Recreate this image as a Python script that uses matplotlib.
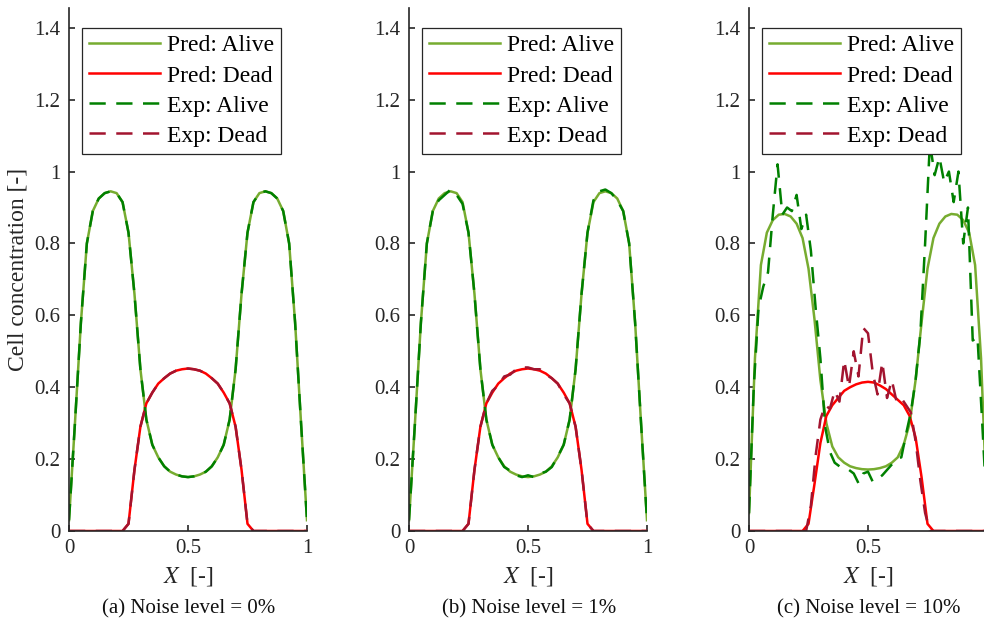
import matplotlib
matplotlib.use("Agg")
import matplotlib.pyplot as plt
import numpy as np

plt.rcParams["font.family"] = ["Liberation Serif", "DejaVu Serif"]
plt.rcParams["mathtext.fontset"] = "stix"

# model grid (step 0.025)
x_pred = [0.0, 0.025, 0.05, 0.075, 0.1, 0.125, 0.15, 0.175, 0.2, 0.225,
          0.25, 0.275, 0.3, 0.325, 0.35, 0.375, 0.4, 0.425, 0.45, 0.475,
          0.5, 0.525, 0.55, 0.575, 0.6, 0.625, 0.65, 0.675, 0.7, 0.725,
          0.75, 0.775, 0.8, 0.825, 0.85, 0.875, 0.9, 0.925, 0.95, 0.975, 1.0]

# noise 0% / 1%: predicted curves
pred_alive_a = [0.03, 0.30, 0.58, 0.80, 0.89, 0.925, 0.94, 0.945, 0.94, 0.915,
                0.83, 0.66, 0.45, 0.31, 0.24, 0.205, 0.18, 0.165, 0.157, 0.152,
                0.15, 0.152, 0.157, 0.165, 0.18, 0.205, 0.24, 0.31, 0.45, 0.66,
                0.83, 0.915, 0.94, 0.945, 0.94, 0.925, 0.89, 0.80, 0.58, 0.30, 0.03]
pred_dead_a = [0, 0, 0, 0, 0, 0, 0, 0, 0, 0,
               0.02, 0.17, 0.29, 0.355, 0.385, 0.41, 0.425, 0.438, 0.446, 0.45,
               0.452, 0.45, 0.446, 0.438, 0.425, 0.41, 0.385, 0.355, 0.29, 0.17,
               0.02, 0, 0, 0, 0, 0, 0, 0, 0, 0, 0]
exp_alive_a = list(pred_alive_a)
exp_dead_a = list(pred_dead_a)

pred_alive_b = list(pred_alive_a)
pred_dead_b = list(pred_dead_a)
exp_alive_b = [0.03, 0.30, 0.58, 0.80, 0.89, 0.92, 0.935, 0.95, 0.935, 0.91,
               0.83, 0.66, 0.45, 0.31, 0.24, 0.205, 0.178, 0.168, 0.155, 0.15,
               0.155, 0.15, 0.16, 0.165, 0.178, 0.207, 0.24, 0.31, 0.45, 0.66,
               0.83, 0.92, 0.945, 0.95, 0.94, 0.92, 0.89, 0.80, 0.58, 0.30, 0.03]
exp_dead_b = [0, 0, 0, 0, 0, 0, 0, 0, 0, 0,
              0.02, 0.17, 0.29, 0.355, 0.39, 0.405, 0.43, 0.435, 0.45, 0.455,
              0.455, 0.45, 0.45, 0.435, 0.425, 0.41, 0.38, 0.355, 0.29, 0.17,
              0.02, 0, 0, 0, 0, 0, 0, 0, 0, 0, 0]

# noise 10%
pred_alive_c = [0.05, 0.48, 0.74, 0.83, 0.865, 0.88, 0.882, 0.875, 0.855, 0.815,
                0.73, 0.59, 0.42, 0.30, 0.235, 0.205, 0.19, 0.18, 0.175, 0.172,
                0.171, 0.172, 0.175, 0.18, 0.19, 0.205, 0.24, 0.30, 0.42, 0.58,
                0.73, 0.815, 0.855, 0.875, 0.882, 0.88, 0.865, 0.83, 0.74, 0.48, 0.05]
pred_dead_c = [0, 0, 0, 0, 0, 0, 0, 0, 0, 0,
               0.02, 0.13, 0.245, 0.32, 0.35, 0.37, 0.39, 0.40, 0.408, 0.413,
               0.415, 0.413, 0.405, 0.395, 0.38, 0.365, 0.35, 0.32, 0.26, 0.15,
               0.02, 0, 0, 0, 0, 0, 0, 0, 0, 0, 0]

# measured grid (step 0.02)
x_exp_c = [0.0, 0.02, 0.04, 0.06, 0.08, 0.1, 0.12, 0.14, 0.16, 0.18,
           0.2, 0.22, 0.24, 0.26, 0.28, 0.3, 0.32, 0.34, 0.36, 0.38,
           0.4, 0.42, 0.44, 0.46, 0.48, 0.5, 0.52, 0.54, 0.56, 0.58,
           0.6, 0.62, 0.64, 0.66, 0.68, 0.7, 0.72, 0.74, 0.76, 0.78,
           0.8, 0.82, 0.84, 0.86, 0.88, 0.9, 0.92, 0.94, 0.96, 0.98, 1.0]
exp_alive_c = [0.05, 0.40, 0.62, 0.68, 0.72, 0.88, 1.02, 0.88, 0.90, 0.89,
               0.935, 0.84, 0.88, 0.78, 0.62, 0.48, 0.29, 0.22, 0.19, 0.18,
               0.175, 0.17, 0.16, 0.133, 0.16, 0.165, 0.137, 0.145, 0.155, 0.17,
               0.185, 0.20, 0.205, 0.27, 0.33, 0.42, 0.55, 0.80, 1.08, 0.99,
               1.04, 0.97, 1.00, 0.915, 1.00, 0.80, 0.90, 0.53, 0.54, 0.30, 0.05]
exp_dead_c = [0, 0, 0, 0, 0, 0, 0, 0, 0, 0,
              0, 0, 0, 0.07, 0.21, 0.31, 0.35, 0.34, 0.39, 0.36,
              0.475, 0.40, 0.50, 0.43, 0.565, 0.55, 0.44, 0.38, 0.47, 0.37,
              0.42, 0.36, 0.37, 0.35, 0.33, 0.25, 0.14, 0.05, 0, 0,
              0, 0, 0, 0, 0, 0, 0, 0, 0, 0, 0]

panels = [
    ("(a) Noise level = 0%", x_pred, pred_alive_a, pred_dead_a, x_pred, exp_alive_a, exp_dead_a),
    ("(b) Noise level = 1%", x_pred, pred_alive_b, pred_dead_b, x_pred, exp_alive_b, exp_dead_b),
    ("(c) Noise level = 10%", x_pred, pred_alive_c, pred_dead_c, x_exp_c, exp_alive_c, exp_dead_c),
]
y_ticks = [0, 0.2, 0.4, 0.6, 0.8, 1.0, 1.2, 1.4]
y_ticklabels = ["0", "0.2", "0.4", "0.6", "0.8", "1", "1.2", "1.4"]
x_ticks = [0, 0.5, 1]
x_ticklabels = ["0", "0.5", "1"]

c_pred_alive = "#77AC30"
c_pred_dead = "#FF0000"
c_exp_alive = "#008000"
c_exp_dead = "#A2142F"
c_axis = "#262626"

fig = plt.figure(figsize=(9.84, 6.29), dpi=100)
lefts = [69 / 984, 409 / 984, 749 / 984]
for i, (caption, xp, pa, pd_, xe, ea, ed) in enumerate(panels):
    ax = fig.add_axes([lefts[i], 98 / 629, 238 / 984, 523 / 629])
    ax.plot(xp, pa, color=c_pred_alive, lw=1.8, label="Pred: Alive")
    ax.plot(xp, pd_, color=c_pred_dead, lw=1.8, label="Pred: Dead")
    ax.plot(xe, ea, color=c_exp_alive, lw=1.8, dashes=(6.5, 4.2), label="Exp: Alive")
    ax.plot(xe, ed, color=c_exp_dead, lw=1.8, dashes=(6.5, 4.2), label="Exp: Dead")
    ax.set_xlim(0, 1)
    ax.set_ylim(0, 1.455)
    ax.set_xticks(x_ticks)
    # the right end of the last panel falls outside the picture
    ax.set_xticklabels(x_ticklabels if i < 2 else x_ticklabels[:2] + [""])
    ax.set_yticks(y_ticks)
    ax.set_yticklabels(y_ticklabels)
    for side in ["top", "right"]:
        ax.spines[side].set_visible(False)
    for side in ["left", "bottom"]:
        ax.spines[side].set_color(c_axis)
        ax.spines[side].set_linewidth(1.2)
    ax.tick_params(direction="in", length=4.5, width=1.2, colors=c_axis,
                   labelsize=15, pad=6)
    ax.set_xlabel(r"$X$  [-]", fontsize=17, color=c_axis, labelpad=5)
    if i == 0:
        ax.set_ylabel("Cell concentration [-]", fontsize=17, color=c_axis, labelpad=4)
    leg = ax.legend(loc="upper left", bbox_to_anchor=(0.055, 0.962), borderaxespad=0,
                    fontsize=17, handlelength=3.0, handletextpad=0.3,
                    labelspacing=0.36, borderpad=0.3, fancybox=False, framealpha=1)
    leg.get_frame().set_edgecolor(c_axis)
    leg.get_frame().set_linewidth(0.9)
    fig.text(lefts[i] + 120 / 984, 1 - 609 / 629, caption, ha="center", va="center",
             fontsize=15, color="#111111")

fig.savefig("out.png", dpi=100)
